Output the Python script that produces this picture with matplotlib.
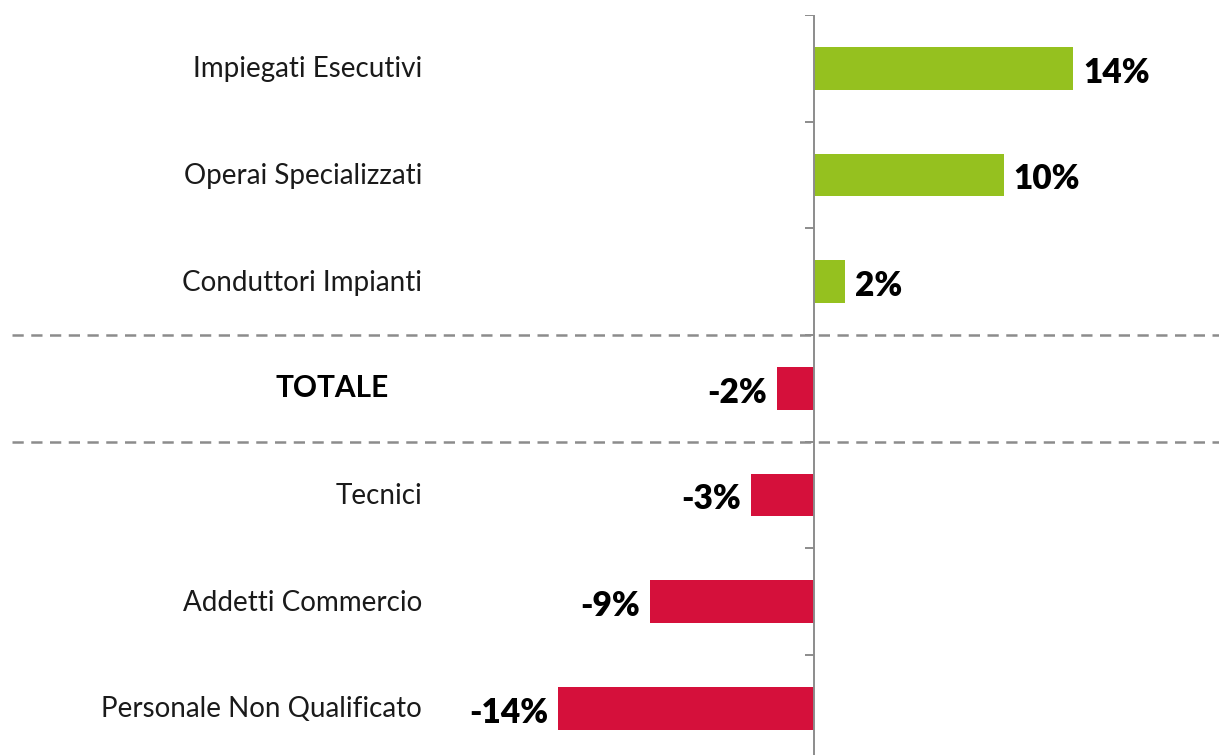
import matplotlib
matplotlib.use("Agg")
import matplotlib.pyplot as plt
import matplotlib.transforms as mtrans
import numpy as np

categories = ["Impiegati Esecutivi", "Operai Specializzati", "Conduttori Impianti",
              "TOTALE", "Tecnici", "Addetti Commercio", "Personale Non Qualificato"]
values = [14.1, 10.3, 1.7, -2.0, -3.4, -8.9, -13.9]
value_labels = ["14%", "10%", "2%", "-2%", "-3%", "-9%", "-14%"]

GREEN = "#95C11F"
RED = "#D5103B"
GRAY = "#8C8C8C"
FONT = "Lato"

W, H = 1219, 755
fig = plt.figure(figsize=(W / 100, H / 100), dpi=100)
top_px, bot_px = 15, 15 + 7 * 106.67
ax = fig.add_axes([0, (H - bot_px) / H, 1, (bot_px - top_px) / H])
ax.set_facecolor("none")

px_per_unit = 18.4
zero_px = 814
ax.set_xlim(-zero_px / px_per_unit, (W - zero_px) / px_per_unit)
ax.set_ylim(len(categories) - 0.5, -0.5)

y = np.arange(len(categories))
colors = [GREEN if v >= 0 else RED for v in values]
ax.barh(y, values, height=0.4, color=colors, zorder=3)

for s in ax.spines.values():
    s.set_visible(False)
ax.axvline(0, color=GRAY, lw=1.4, zorder=4)
ax.set_xticks([])
ax.set_yticks([])
tick_len = 9 / px_per_unit
for b in np.arange(-0.5, len(categories) - 0.5, 1.0):
    ax.plot([-tick_len, 0], [b, b], color=GRAY, lw=1.4, zorder=4, solid_capstyle="butt")

blend = mtrans.blended_transform_factory(ax.transAxes, ax.transData)
for b in (2.5, 3.5):
    ax.plot([12 / W, 1.0], [b, b], transform=blend, color=GRAY, lw=1.8,
            dashes=(4.5, 3), zorder=2)

for i, c in enumerate(categories):
    if c == "TOTALE":
        ax.text(332 / W, i, c, transform=blend, ha="center", va="center",
                fontsize=21.5, fontweight="bold", family=FONT, color="black")
    else:
        ax.text(422 / W, i + 0.01, c, transform=blend, ha="right", va="center",
                fontsize=20, family=FONT, color="#1a1a1a")

off = 10 / px_per_unit
for i, (v, lab) in enumerate(zip(values, value_labels)):
    if v >= 0:
        ax.text(v + off, i + 0.04, lab, ha="left", va="center", fontsize=24,
                fontweight="heavy", family=FONT, color="black")
    else:
        ax.text(v - off, i + 0.04, lab, ha="right", va="center", fontsize=24,
                fontweight="heavy", family=FONT, color="black")

fig.savefig("out.png", dpi=100)
